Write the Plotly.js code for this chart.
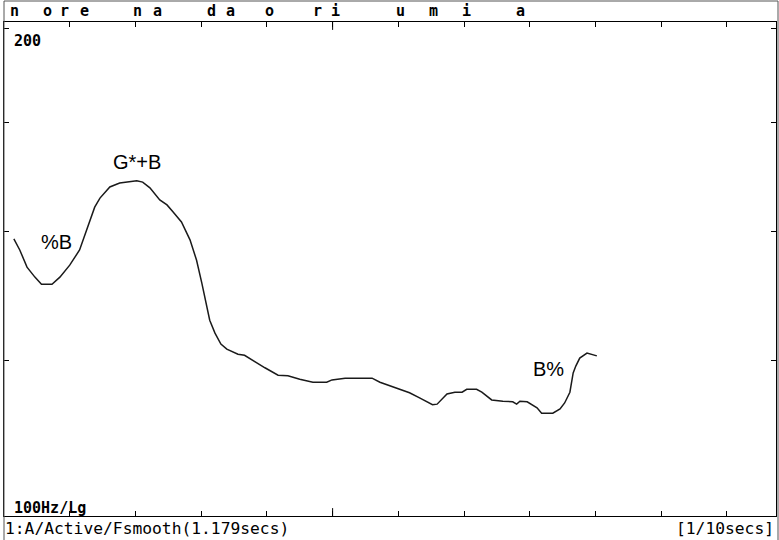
<!DOCTYPE html>
<html>
<head>
<meta charset="utf-8">
<script src="https://cdn.plot.ly/plotly-3.0.1.min.js"></script>
<style>html,body{margin:0;padding:0;background:#fff;}#chart{width:779px;height:540px;}</style>
</head>
<body>
<div id="chart"></div>
<script>
// Time (s) of each pitch sample
const times = [0.015,0.024,0.035,0.047,0.057,0.073,0.085,0.100,0.115,0.126,0.138,0.146,0.161,0.176,0.191,0.202,0.211,0.222,0.237,0.248,0.257,0.270,0.283,0.293,0.301,0.307,0.313,0.321,0.330,0.339,0.356,0.366,0.377,0.397,0.417,0.432,0.450,0.470,0.491,0.499,0.519,0.560,0.572,0.592,0.617,0.633,0.652,0.659,0.674,0.686,0.697,0.704,0.719,0.727,0.742,0.759,0.774,0.780,0.785,0.796,0.811,0.818,0.835,0.846,0.853,0.861,0.866,0.870,0.876,0.887,0.895,0.902];
// F0 (Hz)
const f0 = [148.5,146.2,142.7,140.7,139.3,139.3,140.7,143.1,146.2,150.4,155.3,157.3,159.8,160.7,160.9,161.2,160.9,159.6,156.9,155.8,154.3,152.1,148.3,144.1,139.5,136.2,132.4,130.0,128.0,127.1,126.2,126.0,125.2,123.8,122.5,122.4,121.8,121.3,121.3,121.7,122.0,122.0,121.3,120.5,119.5,118.6,117.5,117.6,119.3,119.6,119.6,120.1,120.1,119.6,118.3,118.1,118.0,117.6,118.1,118.0,117.0,116.1,116.1,116.8,117.8,119.6,122.9,124.1,125.5,126.4,126.2,125.9];
// Segment labels along the top bar and their times (s)
const segLabels = ['n','o','r','e','n','a','d','a','o','r','i','u','m','i','a'];
const segTimes = [0.016,0.066,0.092,0.122,0.203,0.233,0.316,0.345,0.404,0.477,0.504,0.603,0.653,0.703,0.786];
// Tone labels
const toneLabels = ['%B','G*+B','B%'];
const toneTimes = [0.080,0.202,0.828];
const toneHz = [147.9,165.5,123.6];
// Axis ticks
const xTicks = [0.1,0.2,0.3,0.4,0.5,0.6,0.7,0.8,0.9,1.0,1.1];
const yTicks = [125,150,175,200];
const yTop = '200', yBottom = '100Hz/Lg';
const statusLeft = '1:A/Active/Fsmooth(1.179secs)', statusRight = '[1/10secs]';

const mono = 'DejaVu Sans Mono, Liberation Mono, monospace';
const annotations = [];
segLabels.forEach((s, i) => annotations.push({
  text: s, x: segTimes[i], xref: 'x', y: 1.0222, yref: 'paper',
  xanchor: 'center', yanchor: 'middle', showarrow: false,
  font: {family: mono, size: 15, color: '#000', weight: 'bold'}
}));
toneLabels.forEach((s, i) => annotations.push({
  text: s, x: toneTimes[i], xref: 'x', y: Math.log10(toneHz[i]), yref: 'y',
  xanchor: 'center', yanchor: 'middle', showarrow: false,
  font: {family: 'Liberation Sans, Arial, sans-serif', size: 20, color: '#000'}
}));
annotations.push({text: yTop, x: 0.0104, xref: 'paper', y: 0.9615, yref: 'paper', xanchor: 'left', yanchor: 'middle', showarrow: false, font: {family: mono, size: 15, color: '#000', weight: 'bold'}});
annotations.push({text: yBottom, x: 0.0104, xref: 'paper', y: 0.0162, yref: 'paper', xanchor: 'left', yanchor: 'middle', showarrow: false, font: {family: mono, size: 15, color: '#000', weight: 'bold'}});
annotations.push({text: statusLeft, x: -0.001, xref: 'paper', y: -0.0263, yref: 'paper', xanchor: 'left', yanchor: 'middle', showarrow: false, font: {family: mono, size: 16.3, color: '#000'}});
annotations.push({text: statusRight, x: 1.0, xref: 'paper', y: -0.0263, yref: 'paper', xanchor: 'right', yanchor: 'middle', showarrow: false, font: {family: mono, size: 16.3, color: '#000'}});

const shapes = [
  // outer frame
  {type: 'rect', xref: 'paper', yref: 'paper', x0: 0, x1: 1.0026, y0: -0.06, y1: 1.0425, line: {color: '#555', width: 1}},
  // long half-second ticks
  {type: 'line', xref: 'x', yref: 'paper', x0: 0.5, x1: 0.5, y0: 1, y1: 0.984, line: {color: '#000', width: 1}},
  {type: 'line', xref: 'x', yref: 'paper', x0: 0.5, x1: 0.5, y0: 0, y1: 0.016, line: {color: '#000', width: 1}}
];

const trace = {
  x: times, y: f0, type: 'scatter', mode: 'lines',
  line: {color: '#1a1a1a', width: 1.5, shape: 'linear'},
  hoverinfo: 'skip'
};

const layout = {
  width: 779, height: 540,
  margin: {l: 4, r: 3, t: 22, b: 24, pad: 0},
  paper_bgcolor: '#fff', plot_bgcolor: '#fff',
  showlegend: false,
  xaxis: {
    range: [0, 1.1746], tickvals: xTicks, ticks: 'inside', ticklen: 5, tickcolor: '#000',
    showticklabels: false, showgrid: false, zeroline: false,
    showline: true, linecolor: '#000', linewidth: 1, mirror: 'ticks'
  },
  yaxis: {
    type: 'log', range: [2.00184, 2.30471], tickvals: yTicks, ticks: 'inside', ticklen: 5, tickcolor: '#000',
    showticklabels: false, showgrid: false, zeroline: false,
    showline: true, linecolor: '#000', linewidth: 1, mirror: 'ticks'
  },
  annotations: annotations,
  shapes: shapes
};

Plotly.newPlot('chart', [trace], layout, {staticPlot: true, displayModeBar: false});
</script>
</body>
</html>
